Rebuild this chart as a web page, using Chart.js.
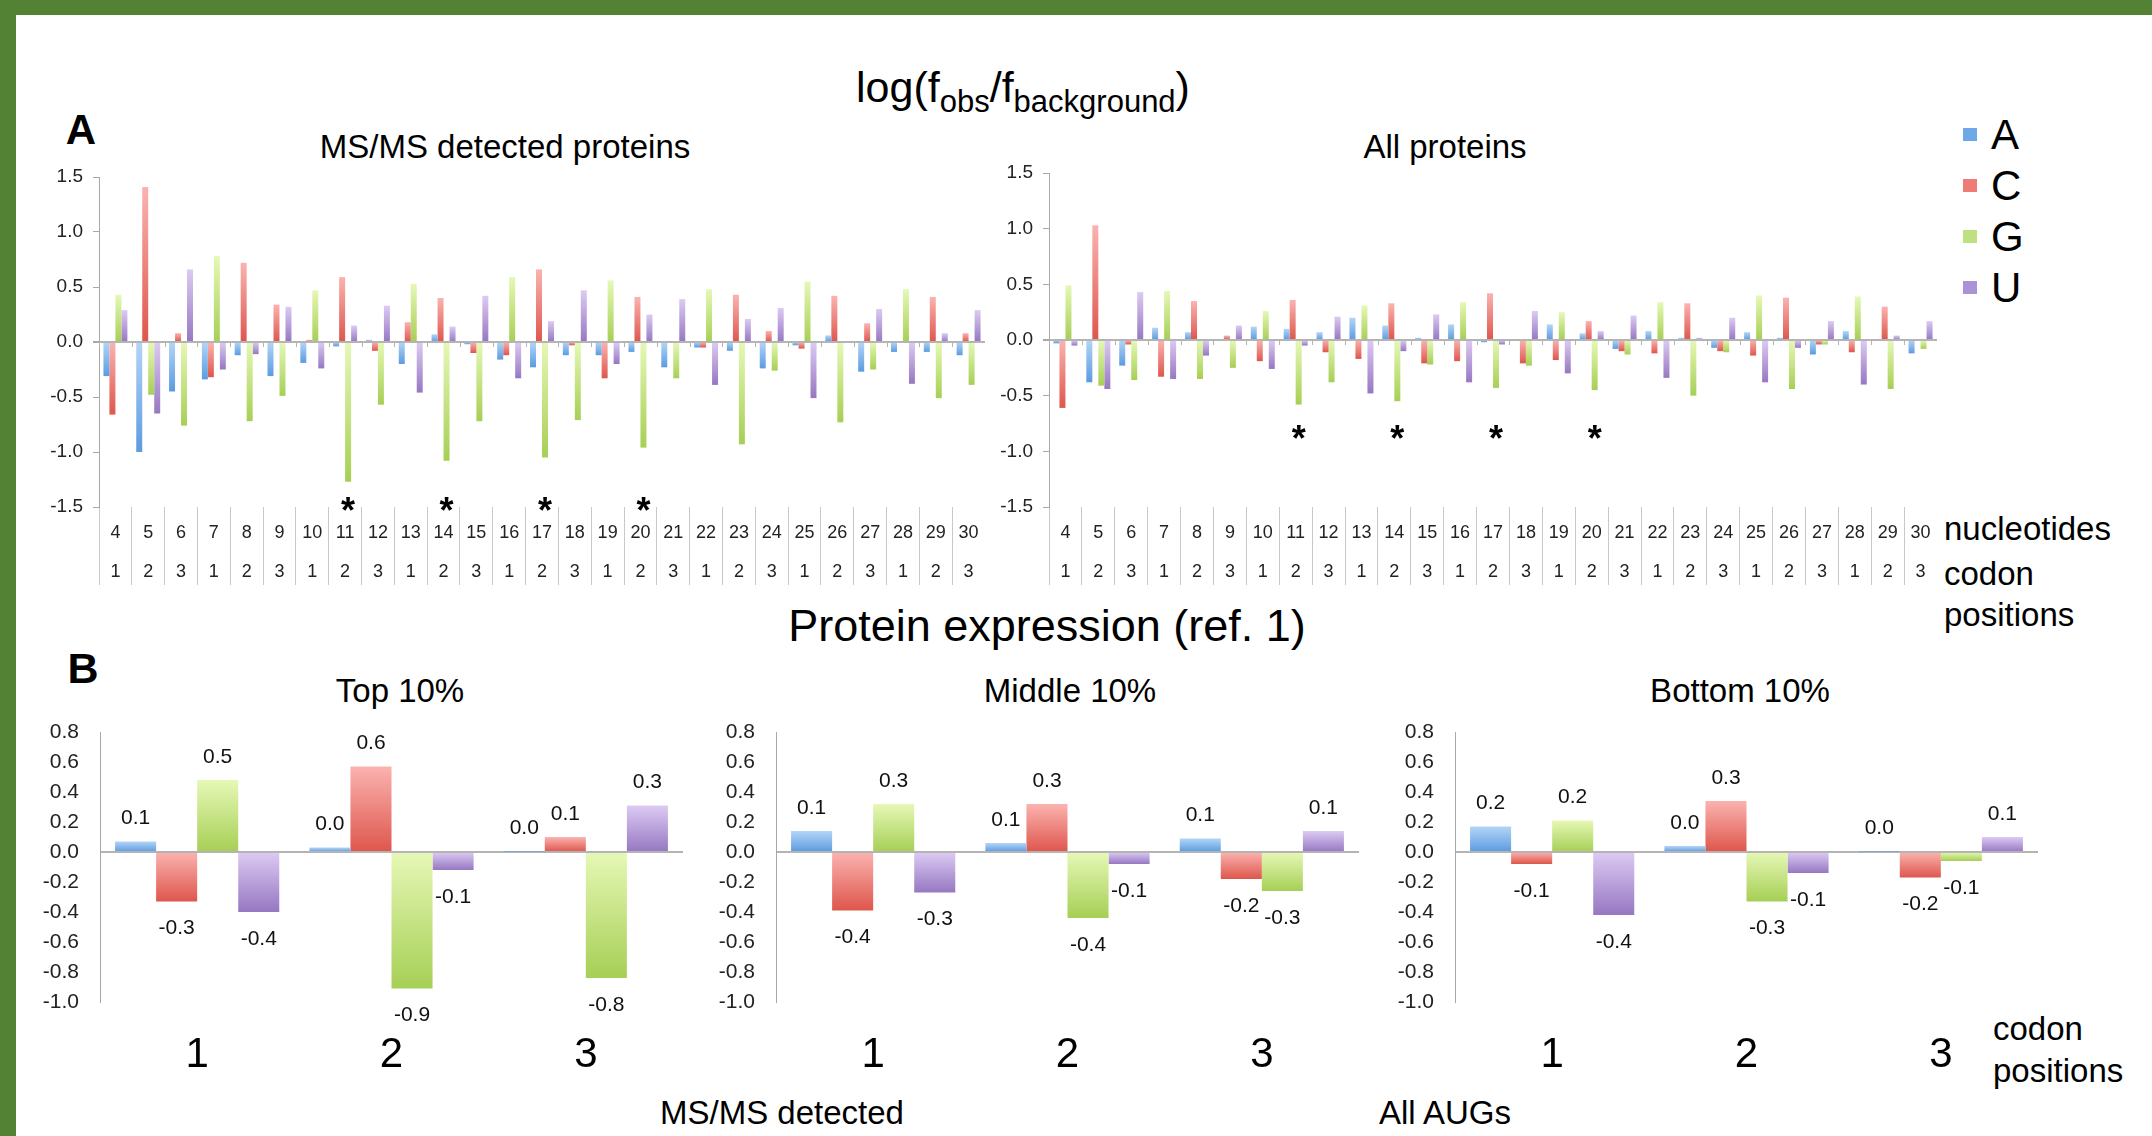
<!DOCTYPE html>
<html>
<head>
<meta charset="utf-8">
<title>log(fobs/fbackground)</title>
<script src="https://cdn.jsdelivr.net/npm/chart.js@4.4.1/dist/chart.umd.min.js"></script>
<style>
  html, body { margin: 0; padding: 0; }
  body { width: 2152px; height: 1136px; position: relative; overflow: hidden; background: #fff;
         font-family: "Liberation Sans", Arial, sans-serif; color: #000; }
  .frame-top { position: absolute; left: 0; top: 0; width: 2152px; height: 15px; background: #548235; }
  .frame-left { position: absolute; left: 0; top: 0; width: 16px; height: 1136px; background: #548235; }
  .txt { position: absolute; white-space: nowrap; line-height: 1; }
  .mid { transform: translate(-50%, -50%); }
  .sb { font-size: 31px; position: relative; top: 10px; }
  canvas { position: absolute; }
  #legend { position: absolute; left: 1963px; top: 109px; }
  #legend div { height: 51px; display: flex; align-items: center; font-size: 42px; line-height: 1; }
  #legend .sw { width: 14px; height: 13px; margin-right: 14px; }
</style>
</head>
<body>
<div class="frame-top"></div>
<div class="frame-left"></div>

<div class="txt mid" style="left:1023px;top:87px;font-size:43px">log(f<span class="sb">obs</span>/f<span class="sb">background</span>)</div>
<div class="txt mid" style="left:81px;top:130px;font-size:42px;font-weight:bold">A</div>
<div class="txt mid" style="left:505px;top:146px;font-size:33px">MS/MS detected proteins</div>
<div class="txt mid" style="left:1445px;top:146px;font-size:33px">All proteins</div>
<div id="legend"></div>
<div class="txt" style="left:1944px;top:512px;font-size:33px">nucleotides</div>
<div class="txt" style="left:1944px;top:557px;font-size:33px">codon</div>
<div class="txt" style="left:1944px;top:598px;font-size:33px">positions</div>

<div class="txt mid" style="left:1047px;top:625px;font-size:45px">Protein expression (ref. 1)</div>
<div class="txt mid" style="left:83px;top:668px;font-size:43px;font-weight:bold">B</div>
<div class="txt mid" style="left:400px;top:690px;font-size:33px">Top 10%</div>
<div class="txt mid" style="left:1070px;top:690px;font-size:33px">Middle 10%</div>
<div class="txt mid" style="left:1740px;top:690px;font-size:33px">Bottom 10%</div>
<div class="txt" style="left:1993px;top:1012px;font-size:33px">codon</div>
<div class="txt" style="left:1993px;top:1054px;font-size:33px">positions</div>
<div class="txt mid" style="left:782px;top:1112px;font-size:33px">MS/MS detected</div>
<div class="txt mid" style="left:1445px;top:1112px;font-size:33px">All AUGs</div>

<script>
// categories
const nucleotidePos = ['4','5','6','7','8','9','10','11','12','13','14','15','16','17','18','19','20','21','22','23','24','25','26','27','28','29','30'];
const codonPos = ['1','2','3','1','2','3','1','2','3','1','2','3','1','2','3','1','2','3','1','2','3','1','2','3','1','2','3'];
const starredPos = ['11','14','17','20'];
const seriesNames = ['A','C','G','U'];
const codonGroups = ['1','2','3'];

// y tick range
const topTicks = { min: -1.5, max: 1.5, step: 0.5 };
const bottomTicks = { min: -1.0, max: 0.8, step: 0.2 };

// MS/MS detected proteins
const msA = [-0.31,-1.00,-0.45,-0.34,-0.12,-0.31,-0.19,-0.04,0.02,-0.20,0.07,-0.02,-0.16,-0.23,-0.12,-0.12,-0.09,-0.23,-0.05,-0.08,-0.24,-0.03,0.06,-0.27,-0.09,-0.09,-0.12];
const msC = [-0.66,1.41,0.08,-0.32,0.72,0.34,0.02,0.59,-0.08,0.18,0.40,-0.10,-0.12,0.66,-0.03,-0.33,0.41,0.01,-0.05,0.43,0.10,-0.06,0.42,0.17,0.00,0.41,0.08];
const msG = [0.43,-0.48,-0.76,0.78,-0.72,-0.49,0.47,-1.27,-0.57,0.53,-1.08,-0.72,0.59,-1.05,-0.71,0.56,-0.96,-0.33,0.48,-0.93,-0.26,0.55,-0.73,-0.25,0.48,-0.51,-0.39];
const msU = [0.29,-0.65,0.66,-0.25,-0.11,0.32,-0.24,0.15,0.33,-0.46,0.14,0.42,-0.33,0.19,0.47,-0.20,0.25,0.39,-0.39,0.21,0.31,-0.51,0.00,0.30,-0.38,0.08,0.29];

// All proteins
const allA = [-0.03,-0.38,-0.23,0.11,0.07,0.00,0.12,0.10,0.07,0.20,0.13,0.02,0.14,-0.02,0.00,0.14,0.06,-0.08,0.08,0.02,-0.07,0.07,0.02,-0.13,0.08,0.00,-0.12];
const allC = [-0.61,1.03,-0.04,-0.33,0.35,0.04,-0.19,0.36,-0.11,-0.17,0.33,-0.21,-0.19,0.42,-0.21,-0.18,0.17,-0.10,-0.12,0.33,-0.10,-0.14,0.38,-0.04,-0.11,0.30,0.00];
const allG = [0.49,-0.41,-0.36,0.44,-0.35,-0.25,0.26,-0.58,-0.38,0.31,-0.55,-0.22,0.34,-0.43,-0.23,0.25,-0.45,-0.13,0.34,-0.50,-0.11,0.40,-0.44,-0.04,0.39,-0.44,-0.08];
const allU = [-0.05,-0.44,0.43,-0.35,-0.14,0.13,-0.26,-0.05,0.21,-0.48,-0.10,0.23,-0.38,-0.04,0.26,-0.30,0.08,0.22,-0.34,0.02,0.20,-0.38,-0.07,0.17,-0.40,0.04,0.17];

// Protein expression groups
const top10A = [0.07, 0.03, 0.003];
const top10C = [-0.33, 0.57, 0.10];
const top10G = [0.48, -0.91, -0.84];
const top10U = [-0.40, -0.12, 0.31];
const mid10A = [0.14, 0.06, 0.09];
const mid10C = [-0.39, 0.32, -0.18];
const mid10G = [0.32, -0.44, -0.26];
const mid10U = [-0.27, -0.08, 0.14];
const bot10A = [0.17, 0.04, 0.003];
const bot10C = [-0.08, 0.34, -0.17];
const bot10G = [0.21, -0.33, -0.06];
const bot10U = [-0.42, -0.14, 0.10];

const FONT = '"Liberation Sans", Arial, sans-serif';
const lightCols = ['#b3d5f7', '#fbb3b0', '#e6f8b6', '#dccbf3'];
const darkCols  = ['#5b9be0', '#de564c', '#a6cf55', '#9677c2'];
const legendCols = ['#6fa8e8', '#ee7b76', '#bfe07f', '#ab92d6'];

Chart.defaults.font.family = FONT;
Chart.defaults.color = '#222';

// legend
const legend = document.getElementById('legend');
seriesNames.forEach((name, k) => {
  const row = document.createElement('div');
  row.innerHTML = `<span class="sw" style="background:${legendCols[k]}"></span>${name}`;
  legend.appendChild(row);
});

// vertical gradient, light at the top of each bar
function barFill(light, dark) {
  return function (ctx) {
    const chart = ctx.chart;
    if (!chart.chartArea || ctx.type !== 'data') return dark;
    const ys = chart.scales.y;
    const p0 = ys.getPixelForValue(0);
    const p1 = ys.getPixelForValue(ctx.raw);
    const top = Math.min(p0, p1), bottom = Math.max(p0, p1);
    if (bottom - top < 1) return dark;
    const g = chart.ctx.createLinearGradient(0, top, 0, bottom);
    g.addColorStop(0, light);
    g.addColorStop(1, dark);
    return g;
  };
}

const isZero = v => Math.abs(v) < 1e-9;

// small ticks below the zero line
const zeroTicks = {
  id: 'zeroTicks',
  beforeDatasetsDraw(chart) {
    const xs = chart.scales.x, ys = chart.scales.y, ctx = chart.ctx;
    const n = chart.data.labels.length;
    const w = (xs.right - xs.left) / n;
    const y0 = ys.getPixelForValue(0);
    ctx.save();
    ctx.strokeStyle = '#b4b4b4';
    ctx.lineWidth = 1;
    for (let i = 0; i <= n; i++) {
      const x = Math.round(xs.left + i * w) + 0.5;
      ctx.beginPath();
      ctx.moveTo(x, y0);
      ctx.lineTo(x, y0 + 5);
      ctx.stroke();
    }
    ctx.restore();
  }
};

// asterisks under the G bars of the marked positions
const starPlugin = {
  id: 'stars',
  afterDatasetsDraw(chart, args, opts) {
    const ys = chart.scales.y, ctx = chart.ctx;
    const gMeta = chart.getDatasetMeta(2);
    ctx.save();
    ctx.font = 'bold 36px ' + FONT;
    ctx.fillStyle = '#000';
    ctx.textAlign = 'center';
    ctx.textBaseline = 'alphabetic';
    opts.positions.forEach(p => {
      const i = nucleotidePos.indexOf(p);
      const x = gMeta.data[i].x;
      const y = ys.getPixelForValue(opts.level);
      ctx.fillText('*', x, y + 20);
    });
    ctx.restore();
  }
};

// value labels above / below bars
const valueLabels = {
  id: 'valueLabels',
  afterDatasetsDraw(chart) {
    const ctx = chart.ctx;
    ctx.save();
    ctx.font = '21px ' + FONT;
    ctx.fillStyle = '#111';
    ctx.textAlign = 'center';
    ctx.textBaseline = 'middle';
    chart.data.datasets.forEach((ds, k) => {
      chart.getDatasetMeta(k).data.forEach((el, i) => {
        const v = ds.data[i];
        const y = v >= 0 ? el.y - 23 : el.y + 27;
        ctx.fillText(v.toFixed(1), el.x, y);
      });
    });
    ctx.restore();
  }
};

function makeCanvas(left, top, w, h) {
  const c = document.createElement('canvas');
  c.width = w; c.height = h;
  c.style.left = left + 'px'; c.style.top = top + 'px';
  c.style.width = w + 'px'; c.style.height = h + 'px';
  document.body.appendChild(c);
  return c;
}

function topChart(left, top, w, h, series, starLevel) {
  const canvas = makeCanvas(left, top, w, h);
  return new Chart(canvas, {
    type: 'bar',
    data: {
      labels: nucleotidePos.map((n, i) => [n, codonPos[i]]),
      datasets: series.map((vals, k) => ({
        label: seriesNames[k],
        data: vals,
        backgroundColor: barFill(lightCols[k], darkCols[k]),
        borderWidth: 0,
        categoryPercentage: 0.73,
        barPercentage: 1.0
      }))
    },
    options: {
      responsive: false,
      animation: false,
      devicePixelRatio: 1,
      layout: { padding: { top: 24, right: 0, bottom: 0, left: 0 } },
      plugins: {
        legend: { display: false },
        tooltip: { enabled: false },
        stars: { positions: starredPos, level: starLevel }
      },
      scales: {
        x: {
          grid: { offset: true, drawOnChartArea: false, drawTicks: true, tickLength: 78, color: '#c8c8c8' },
          border: { display: false },
          ticks: { font: { size: 18, lineHeight: 39 / 18 }, color: '#222', padding: -71.5, maxRotation: 0, autoSkip: false },
          afterFit(s) { s.height = 80; }
        },
        y: {
          min: topTicks.min, max: topTicks.max,
          ticks: { stepSize: topTicks.step, font: { size: 19 }, color: '#222', padding: 10, autoSkip: false,
                   callback: v => v.toFixed(1) },
          grid: {
            color: c => isZero(c.tick.value) ? '#b4b4b4' : 'rgba(0,0,0,0)',
            lineWidth: c => isZero(c.tick.value) ? 2 : 1,
            drawTicks: true, tickLength: 6, tickColor: '#a8a8a8'
          },
          border: { display: true, color: '#a8a8a8' },
          afterFit(s) { s.width = 79; }
        }
      }
    },
    plugins: [zeroTicks, starPlugin]
  });
}

function groupChart(left, series) {
  const canvas = makeCanvas(left, 694, 663, 388);
  return new Chart(canvas, {
    type: 'bar',
    data: {
      labels: codonGroups,
      datasets: series.map((vals, k) => ({
        label: seriesNames[k],
        data: vals,
        backgroundColor: barFill(lightCols[k], darkCols[k]),
        borderWidth: 0,
        categoryPercentage: 0.845,
        barPercentage: 1.0
      }))
    },
    options: {
      responsive: false,
      animation: false,
      devicePixelRatio: 1,
      layout: { padding: { top: 38, right: 10, bottom: 0, left: 0 } },
      plugins: { legend: { display: false }, tooltip: { enabled: false } },
      scales: {
        x: {
          grid: { display: false },
          border: { display: false },
          ticks: { font: { size: 42 }, color: '#000', padding: 20, maxRotation: 0 },
          afterFit(s) { s.height = 80; }
        },
        y: {
          min: bottomTicks.min, max: bottomTicks.max,
          ticks: { stepSize: bottomTicks.step, font: { size: 21 }, color: '#222', padding: 21, autoSkip: false,
                   callback: v => v.toFixed(1) },
          grid: {
            color: c => isZero(c.tick.value) ? '#b4b4b4' : 'rgba(0,0,0,0)',
            lineWidth: c => isZero(c.tick.value) ? 2 : 1,
            drawTicks: false
          },
          border: { display: true, color: '#a8a8a8' },
          afterFit(s) { s.width = 70; }
        }
      }
    },
    plugins: [valueLabels]
  });
}

// canvas top = chart-area top minus the layout padding
topChart(20, 153, 965, 434, [msA, msC, msG, msU], -1.46);
topChart(970, 149, 967, 438, [allA, allC, allG, allU], -0.82);

groupChart(30, [top10A, top10C, top10G, top10U]);
groupChart(706, [mid10A, mid10C, mid10G, mid10U]);
groupChart(1385, [bot10A, bot10C, bot10G, bot10U]);
</script>
</body>
</html>
